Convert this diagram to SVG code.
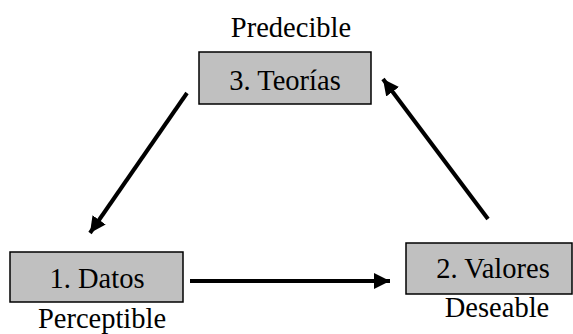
<svg xmlns="http://www.w3.org/2000/svg" width="573" height="334" viewBox="0 0 573 334">
<style>
.box{fill:#c0c0c0;stroke:#000;stroke-width:1.5}
.t{font-family:"Liberation Serif","Times New Roman",serif;font-size:28.5px;fill:#000;text-anchor:middle}
.c{stroke:#000;stroke-width:4;fill:none;marker-end:url(#ah)}
</style>
<defs>
<marker id="ah" markerUnits="userSpaceOnUse" markerWidth="20" markerHeight="20" viewBox="0 0 20 20" refX="16" refY="10" orient="auto">
<path d="M0,2 L16,10 L0,18 Z" fill="#000"/>
</marker>
</defs>
<rect width="573" height="334" fill="#fff"/>
<g id="connectors">
<line class="c" x1="187" y1="93" x2="90" y2="233"/>
<line class="c" x1="190" y1="281" x2="390" y2="281"/>
<line class="c" x1="488" y1="219" x2="383" y2="79"/>
</g>
<g id="teorias">
<text class="t" x="291" y="37">Predecible</text>
<rect class="box" x="199" y="52" width="172" height="52"/>
<text class="t" x="285" y="90">3. Teorías</text>
</g>
<g id="datos">
<rect class="box" x="10" y="252" width="173" height="50"/>
<text class="t" x="97" y="288">1. Datos</text>
<text class="t" x="102" y="328">Perceptible</text>
</g>
<g id="valores">
<rect class="box" x="406" y="243" width="166" height="51"/>
<text class="t" x="493" y="278">2. Valores</text>
<text class="t" x="497" y="317">Deseable</text>
</g>
</svg>
